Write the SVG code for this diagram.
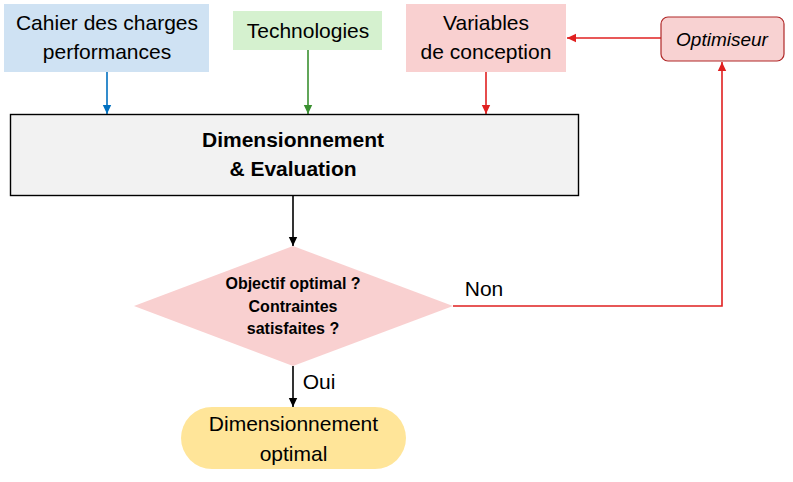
<svg xmlns="http://www.w3.org/2000/svg" width="793" height="482" viewBox="0 0 793 482">
<style>
.t{font-family:"Liberation Sans",Arial,sans-serif;font-size:21px;fill:#000;text-anchor:middle}
.b{font-weight:bold}
.s{font-size:16px}
.i{font-style:italic;font-size:19px}
.c{fill:none;stroke-width:1.6}
</style>
<defs>
<marker id="ab" markerUnits="userSpaceOnUse" markerWidth="10" markerHeight="10" refX="9" refY="5" orient="auto"><path d="M0,0.8 L9,5 L0,9.2 Z" fill="#0070c0"/></marker>
<marker id="ag" markerUnits="userSpaceOnUse" markerWidth="10" markerHeight="10" refX="9" refY="5" orient="auto"><path d="M0,0.8 L9,5 L0,9.2 Z" fill="#3a9030"/></marker>
<marker id="ar" markerUnits="userSpaceOnUse" markerWidth="10" markerHeight="10" refX="9" refY="5" orient="auto"><path d="M0,0.8 L9,5 L0,9.2 Z" fill="#e02020"/></marker>
<marker id="ak" markerUnits="userSpaceOnUse" markerWidth="10" markerHeight="10" refX="9" refY="5" orient="auto"><path d="M0,0.8 L9,5 L0,9.2 Z" fill="#000"/></marker>
</defs>
<g id="connectors">
<line class="c" x1="107" y1="72" x2="107" y2="114" stroke="#0070c0" marker-end="url(#ab)"/>
<line class="c" x1="308" y1="50" x2="308" y2="114" stroke="#3a9030" marker-end="url(#ag)"/>
<line class="c" x1="486" y1="72" x2="486" y2="114" stroke="#e02020" marker-end="url(#ar)"/>
<line class="c" x1="661" y1="38" x2="567" y2="38" stroke="#e02020" marker-end="url(#ar)"/>
<polyline class="c" points="453,306 722,306 722,62" stroke="#e02020" marker-end="url(#ar)"/>
<line class="c" x1="293" y1="195" x2="293" y2="246" stroke="#000" marker-end="url(#ak)"/>
<line class="c" x1="293" y1="366" x2="293" y2="407" stroke="#000" marker-end="url(#ak)"/>
<text class="t" x="484" y="296">Non</text>
<text class="t" x="319" y="389">Oui</text>
</g>
<g id="cahier">
<rect x="4" y="4" width="205" height="68" fill="#cfe2f3"/>
<text class="t" x="107" y="30">Cahier des charges</text>
<text class="t" x="107" y="59">performances</text>
</g>
<g id="technologies">
<rect x="233" y="11" width="149" height="39" fill="#d5f1cf"/>
<text class="t" x="308" y="38">Technologies</text>
</g>
<g id="variables">
<rect x="406" y="4" width="160" height="68" fill="#f9d0d0"/>
<text class="t" x="486" y="30">Variables</text>
<text class="t" x="486" y="59">de conception</text>
</g>
<g id="optimiseur">
<rect x="661" y="17" width="123" height="44" rx="7" fill="#f8d2d2" stroke="#b02828" stroke-width="1.2"/>
<text class="t i" x="722" y="46">Optimiseur</text>
</g>
<g id="dimensionnement">
<rect x="10.5" y="114.5" width="568" height="81" fill="#f2f2f2" stroke="#000" stroke-width="1.4"/>
<text class="t b" x="293" y="147">Dimensionnement</text>
<text class="t b" x="293" y="176">&amp; Evaluation</text>
</g>
<g id="decision">
<polygon points="293,246 453,306 293,366 134,306" fill="#f9d0d0"/>
<text class="t b s" x="293" y="289">Objectif optimal ?</text>
<text class="t b s" x="293" y="312">Contraintes</text>
<text class="t b s" x="293" y="334">satisfaites ?</text>
</g>
<g id="optimal">
<rect x="181" y="407" width="225" height="62" rx="31" fill="#ffe599"/>
<text class="t" x="293.5" y="431">Dimensionnement</text>
<text class="t" x="293.5" y="461">optimal</text>
</g>
</svg>
